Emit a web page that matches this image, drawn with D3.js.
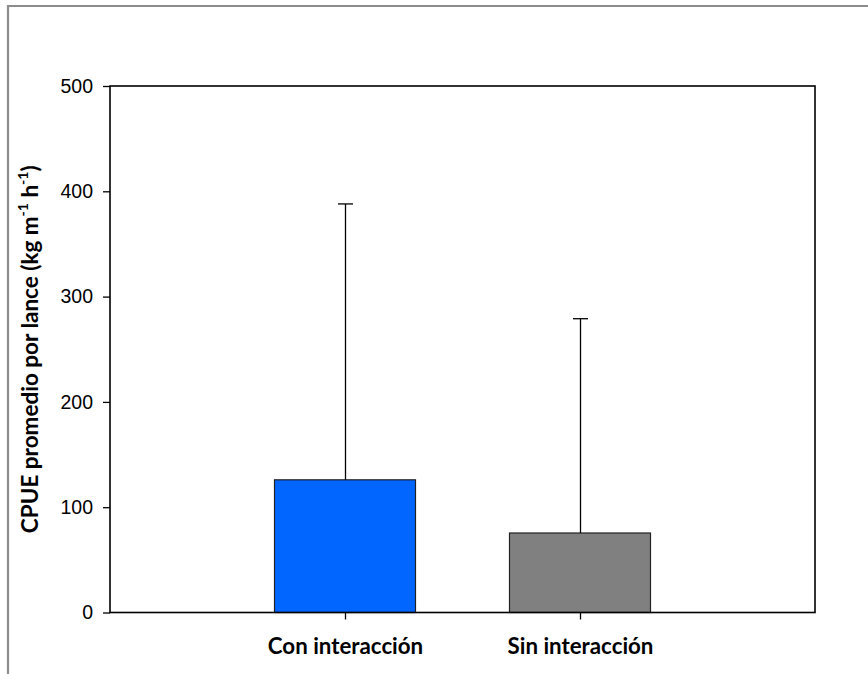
<!DOCTYPE html>
<html>
<head>
<meta charset="utf-8">
<script src="https://cdn.jsdelivr.net/npm/d3@7"></script>
<style>
  html, body { margin: 0; padding: 0; background: #fff; }
  svg { display: block; }
</style>
</head>
<body>
<svg id="chart" width="868" height="674"></svg>
<script>
// Mean CPUE per haul, with the upper standard deviation limit
const categories = ["Con interacción", "Sin interacción"];
const meanValues = [126, 75.5];
const upperLimits = [388, 279];
const barColors = ["#0066FF", "#808080"];
const yTicks = [0, 100, 200, 300, 400, 500];

const svg = d3.select("#chart");
const W = 868, H = 674;
const plot = { left: 110, top: 86, right: 815, bottom: 612.5 };

svg.append("rect").attr("width", W).attr("height", H).attr("fill", "#fff");

// outer frame (only top and left edges fall inside the canvas)
svg.append("path")
  .attr("d", `M8,${H} L8,6 L${W},6`)
  .attr("fill", "none").attr("stroke", "#8c8c8c").attr("stroke-width", 2.2);

const y = d3.scaleLinear().domain([0, 500]).range([plot.bottom, plot.top]);
// categories sit at 1/3 and 2/3 of the axis
const x = d3.scalePoint().domain(["", ...categories, " "]).range([plot.left, plot.right]);
const barW = (plot.right - plot.left) * 0.2;

// bars
svg.selectAll("rect.bar").data(categories).join("rect")
  .attr("class", "bar")
  .attr("x", d => x(d) - barW / 2)
  .attr("y", (d, i) => y(meanValues[i]))
  .attr("width", barW)
  .attr("height", (d, i) => y(0) - y(meanValues[i]))
  .attr("fill", (d, i) => barColors[i])
  .attr("stroke", "#222").attr("stroke-width", 1.2);

// error bars (upper only)
const err = svg.append("g").attr("stroke", "#000").attr("stroke-width", 1.3);
categories.forEach((c, i) => {
  const cx = Math.round(x(c)) + 0.5;
  err.append("line").attr("x1", cx).attr("x2", cx)
    .attr("y1", y(meanValues[i])).attr("y2", y(upperLimits[i]));
  err.append("line").attr("x1", cx - 7.5).attr("x2", cx + 7.5)
    .attr("y1", y(upperLimits[i])).attr("y2", y(upperLimits[i]));
});

// plot box
svg.append("rect")
  .attr("x", plot.left).attr("y", plot.top)
  .attr("width", plot.right - plot.left).attr("height", plot.bottom - plot.top)
  .attr("fill", "none").attr("stroke", "#000").attr("stroke-width", 1.6);

// y axis
const yAxis = svg.append("g")
  .attr("transform", `translate(${plot.left},0)`)
  .call(d3.axisLeft(y).tickValues(yTicks).tickSize(7).tickPadding(10).tickFormat(d3.format("d")));
yAxis.select(".domain").remove();
yAxis.selectAll(".tick line").attr("stroke", "#000").attr("stroke-width", 1.3);
yAxis.selectAll(".tick text")
  .attr("font-family", "'Liberation Sans', Arial, sans-serif")
  .attr("font-size", 19.5).attr("fill", "#000");

// x axis
const xAxis = svg.append("g")
  .attr("transform", `translate(0,${plot.bottom})`)
  .call(d3.axisBottom(x).tickValues(categories).tickSize(7).tickPadding(19));
xAxis.select(".domain").remove();
xAxis.selectAll(".tick line").attr("stroke", "#000").attr("stroke-width", 1.3);
xAxis.selectAll(".tick text")
  .attr("font-family", "Lato, 'Open Sans', sans-serif")
  .attr("font-weight", "bold")
  .attr("font-size", 22.3).attr("fill", "#000");

// y axis title with superscripts
const title = svg.append("text")
  .attr("transform", `translate(37.5,${(plot.top + plot.bottom) / 2}) rotate(-90)`)
  .attr("text-anchor", "middle")
  .attr("font-family", "Lato, 'Open Sans', sans-serif")
  .attr("font-weight", "bold")
  .attr("font-size", 22.5).attr("fill", "#000");
title.append("tspan").text("CPUE promedio por lance (kg m");
title.append("tspan").attr("dy", -10).attr("font-size", 14).text("-1");
title.append("tspan").attr("dy", 10).text(" h");
title.append("tspan").attr("dy", -10).attr("font-size", 14).text("-1");
title.append("tspan").attr("dy", 10).text(")");
</script>
</body>
</html>
